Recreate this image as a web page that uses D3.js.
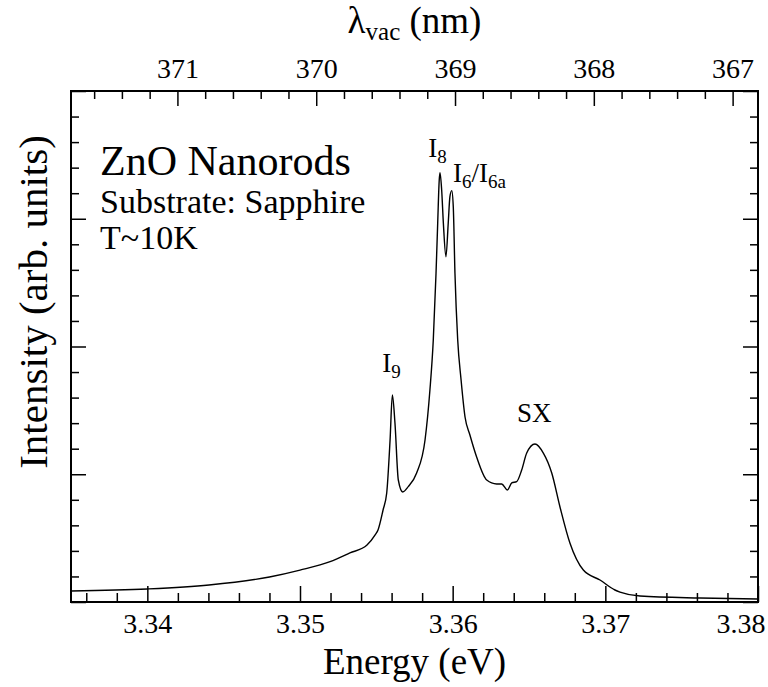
<!DOCTYPE html>
<html>
<head>
<meta charset="utf-8">
<script src="https://cdn.jsdelivr.net/npm/d3@7"></script>
<style>
body { margin: 0; background: #fff; }
svg text { font-family: "Liberation Serif", "Times New Roman", serif; fill: #000; }
</style>
</head>
<body>
<svg id="chart" width="768" height="687" font-family="Liberation Serif"></svg>
<script>
// PL spectrum: photon energy (eV) vs intensity (arb. units)
const energy = [
    3.33500, 3.34000, 3.34404, 3.34800, 3.35000, 3.35197, 3.35327, 3.35439, 3.35491,
    3.35511, 3.35544, 3.35568, 3.35590, 3.35605, 3.35622, 3.35644, 3.35673, 3.35709, 3.35764,
    3.35819, 3.35851, 3.35873, 3.35891, 3.35902, 3.35912, 3.35917, 3.35928, 3.35939, 3.35956,
    3.35971, 3.35982, 3.35994, 3.36004, 3.36015, 3.36033, 3.36055, 3.36081, 3.36113, 3.36157,
    3.36223, 3.36288, 3.36321, 3.36358, 3.36387, 3.36419, 3.36452, 3.36485, 3.36539, 3.36594,
    3.36649, 3.36703, 3.36768, 3.36856, 3.36965, 3.37063, 3.37096, 3.37227, 3.37620, 3.38000
]
const intensity = [
    0.086, 0.102, 0.133, 0.196, 0.250, 0.316, 0.384, 0.446, 0.524,
    0.564, 0.720, 0.853, 1.268, 1.620, 1.401, 0.955, 0.861, 0.903, 1.010,
    1.268, 1.659, 2.051, 2.573, 2.967, 3.303, 3.361, 3.225, 2.967, 2.703,
    2.967, 3.173, 3.220, 3.094, 2.573, 2.051, 1.740, 1.448, 1.307, 1.135,
    0.955, 0.924, 0.924, 0.877, 0.932, 0.942, 1.033, 1.166, 1.237, 1.166,
    1.010, 0.744, 0.462, 0.250, 0.172, 0.094, 0.078, 0.047, 0.031, 0.023
]

const energyTicks = [3.34, 3.35, 3.36, 3.37, 3.38]
const wavelengthTicks = [371, 370, 369, 368, 367]
const intensityTicks = [0, 1, 2, 3, 4]

// peak labels: [main, subscript, rest, restSub, energy, intensity]
const peakLabels = [
    ['I', '9', '', '', 3.35600, 1.80],
    ['I', '8', '', '', 3.35900, 3.48],
    ['I', '6', '/I', '6a', 3.36003, 3.29],
    ['SX', '', '', '', 3.36535, 1.41]
]

const sampleInfo = ['ZnO Nanorods', 'Substrate: Sapphire', 'T~10K']

const hc = 1239.842   // eV nm
const serif = '"Liberation Serif", "Times New Roman", serif'

const svg = d3.select('#chart')
const margin = {top: 91, right: 10, bottom: 85, left: 71}
const width = 768 - margin.left - margin.right,
    height = 687 - margin.top - margin.bottom

const g = svg.append('g').attr('transform', `translate(${margin.left},${margin.top})`)

let x = d3.scaleLinear().domain([3.335, 3.38]).range([0, width])
let lam = d3.scaleLinear().domain([hc / 3.335, hc / 3.38]).range([0, width])
let y = d3.scaleLinear().domain([0, 4]).range([height, 0])

const minorE = d3.range(3.336, 3.3801, 0.002).filter(v => Math.abs(v * 100 - Math.round(v * 100)) > 1e-6)
const minorL = d3.range(366.8, 372, 0.2).filter(v => v < hc / 3.335 && v > hc / 3.38 && Math.abs(v - Math.round(v)) > 1e-6)
const minorI = d3.range(0.2, 4, 0.2).filter(v => Math.abs(v - Math.round(v)) > 1e-6)

const tickStyle = sel => {
    sel.attr('font-family', serif)
    sel.select('.domain').remove()
    sel.selectAll('line').attr('stroke', '#000').attr('stroke-width', 1.5)
}

// bottom
g.append('g').attr('transform', `translate(0,${height})`)
    .call(d3.axisBottom(x).tickValues(minorE).tickSize(-9).tickFormat(''))
    .call(tickStyle)
let bottomAxis = g.append('g').attr('transform', `translate(0,${height})`)
    .call(d3.axisBottom(x).tickValues(energyTicks).tickSize(-16).tickPadding(11).tickFormat(d3.format('.2f')))
    .call(tickStyle)
bottomAxis.selectAll('text').attr('font-size', 28).attr('fill', '#000')
// last label is pulled inside the picture edge
bottomAxis.selectAll('text').filter(d => d === 3.38).attr('text-anchor', 'end').attr('x', 7)

// top
g.append('g')
    .call(d3.axisTop(lam).tickValues(minorL).tickSize(-8).tickFormat(''))
    .call(tickStyle)
g.append('g')
    .call(d3.axisTop(lam).tickValues(wavelengthTicks).tickSize(-15).tickPadding(13).tickFormat(d3.format('d')))
    .call(tickStyle)
    .selectAll('text').attr('font-size', 28).attr('fill', '#000')

// left / right, no labels
const yAxes = [[d3.axisLeft, 0], [d3.axisRight, width]]
yAxes.forEach(([ax, pos]) => {
    g.append('g').attr('transform', `translate(${pos},0)`)
        .call(ax(y).tickValues(minorI).tickSize(-8).tickFormat(''))
        .call(tickStyle)
    g.append('g').attr('transform', `translate(${pos},0)`)
        .call(ax(y).tickValues(intensityTicks).tickSize(-15).tickFormat(''))
        .call(tickStyle)
})

g.append('rect')
    .attr('width', width).attr('height', height)
    .attr('fill', 'none').attr('stroke', '#000').attr('stroke-width', 2)

let line = d3.line()
    .x(d => x(d[0]))
    .y(d => y(d[1]))
    .curve(d3.curveMonotoneX)

g.append('path')
    .datum(energy.map((e, i) => [e, intensity[i]]))
    .attr('d', line)
    .attr('fill', 'none')
    .attr('stroke', '#000')
    .attr('stroke-width', 1.4)

// peak labels
peakLabels.forEach(([a, sa, b, sb, e, v]) => {
    let t = g.append('text')
        .attr('font-family', serif)
        .attr('x', x(e)).attr('y', y(v))
        .attr('font-size', 27)
        .attr('text-anchor', b ? 'start' : 'middle')
    t.append('tspan').text(a)
    if (sa) t.append('tspan').attr('font-size', 19).attr('dy', 6).text(sa)
    if (b) t.append('tspan').attr('dy', -6).text(b)
    if (sb) t.append('tspan').attr('font-size', 19).attr('dy', 6).text(sb)
})

// sample info
const infoSize = [42, 34, 34], infoY = [84, 122, 158]
sampleInfo.forEach((s, i) => {
    g.append('text').attr('font-family', serif)
        .attr('x', 29).attr('y', infoY[i]).attr('font-size', infoSize[i]).text(s)
})

// axis titles
svg.append('text')
    .attr('font-family', serif)
    .attr('x', margin.left + width / 2).attr('y', 674)
    .attr('text-anchor', 'middle').attr('font-size', 37)
    .text('Energy (eV)')

let lt = svg.append('text')
    .attr('font-family', serif)
    .attr('x', margin.left + width / 2).attr('y', 33)
    .attr('text-anchor', 'middle').attr('font-size', 37)
lt.append('tspan').text('λ')
lt.append('tspan').attr('font-size', 25).attr('dy', 7).text('vac')
lt.append('tspan').attr('dy', -7).text(' (nm)')

svg.append('text')
    .attr('font-family', serif)
    .attr('transform', `translate(47,302) rotate(-90)`)
    .attr('text-anchor', 'middle').attr('font-size', 41)
    .text('Intensity (arb. units)')
</script>
</body>
</html>
